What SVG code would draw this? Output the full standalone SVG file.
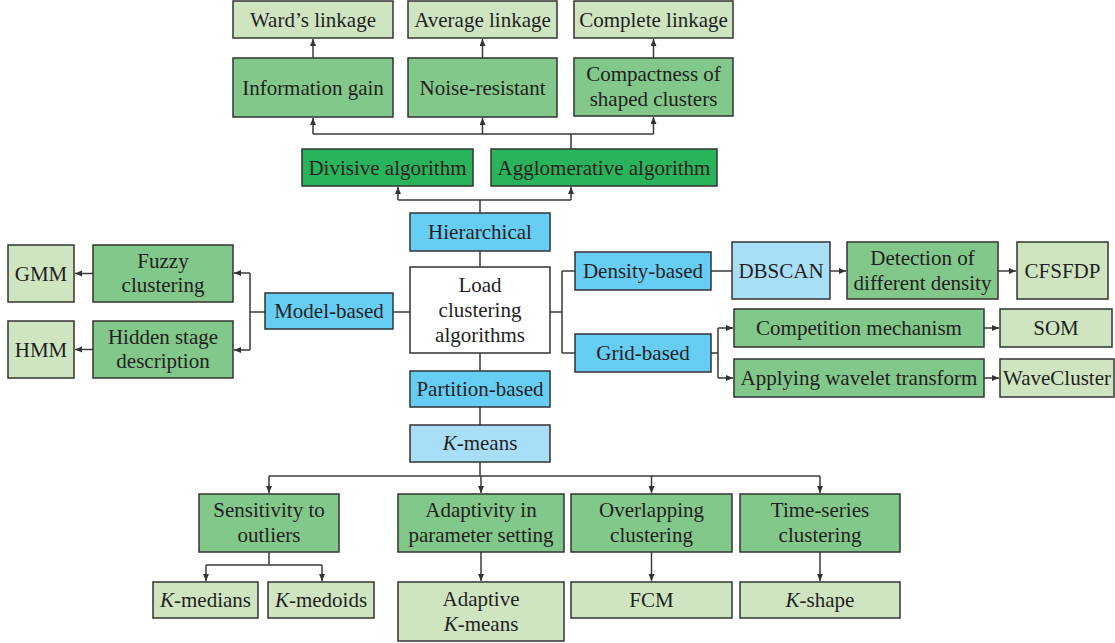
<svg xmlns="http://www.w3.org/2000/svg" width="1115" height="643" viewBox="0 0 1115 643" font-family="Liberation Serif, serif" font-size="21">
<style>
rect{stroke:#333;stroke-width:1.5}
.lg{fill:#cfe5c2}.mg{fill:#82c88a}.dg{fill:#29b45b}.bl{fill:#66cdf5}.lb{fill:#a9def8}.wh{fill:#fff}
text{font-family:"Liberation Serif",serif;font-size:21px;fill:#231f20;text-anchor:middle}
.c path{stroke:#3a3a3a;stroke-width:1.5;fill:none}
</style>
<defs>
<marker id="a" markerUnits="userSpaceOnUse" markerWidth="8" markerHeight="8" refX="7" refY="3" orient="auto"><path d="M0,0 L7,3 L0,6 z" fill="#333"/></marker>
</defs>
<g class="c">
<path d="M313 58V39" marker-end="url(#a)"/>
<path d="M482.5 58V39" marker-end="url(#a)"/>
<path d="M653.5 58V39" marker-end="url(#a)"/>
<path d="M571 149V134M313 134H653.5"/>
<path d="M313 134V118" marker-end="url(#a)"/>
<path d="M482.5 134V118" marker-end="url(#a)"/>
<path d="M653.5 134V117" marker-end="url(#a)"/>
<path d="M480 213V200M398 200H571"/>
<path d="M398 200V187" marker-end="url(#a)"/>
<path d="M571 200V187" marker-end="url(#a)"/>
<path d="M480 251V267M480 353V371M480 407V425"/>
<path d="M410 312H393M265 312H250M250 273V350"/>
<path d="M250 273H234" marker-end="url(#a)"/>
<path d="M250 350H234" marker-end="url(#a)"/>
<path d="M93 273.5H75" marker-end="url(#a)"/>
<path d="M93 349.5H75" marker-end="url(#a)"/>
<path d="M550 312H562M562 271V353M562 271H575M562 353H575M711 271H732"/>
<path d="M830 271H846" marker-end="url(#a)"/>
<path d="M998 271H1016" marker-end="url(#a)"/>
<path d="M711 353H718M718 328V378"/>
<path d="M718 328H733" marker-end="url(#a)"/>
<path d="M718 378H733" marker-end="url(#a)"/>
<path d="M984 328H999" marker-end="url(#a)"/>
<path d="M984 378H999" marker-end="url(#a)"/>
<path d="M480 462V476M269 476H820"/>
<path d="M269 476V493" marker-end="url(#a)"/>
<path d="M481 476V493" marker-end="url(#a)"/>
<path d="M651.5 476V493" marker-end="url(#a)"/>
<path d="M820 476V493" marker-end="url(#a)"/>
<path d="M269 552V565M206 565H322"/>
<path d="M206 565V581" marker-end="url(#a)"/>
<path d="M322 565V581" marker-end="url(#a)"/>
<path d="M481 552V581" marker-end="url(#a)"/>
<path d="M651.5 552V581" marker-end="url(#a)"/>
<path d="M820 552V581" marker-end="url(#a)"/>
</g>
<g id="ward"><rect class="lg" x="233" y="1" width="160" height="37"/><text x="313" y="27">Ward’s linkage</text></g>
<g id="average"><rect class="lg" x="408" y="1" width="149" height="37"/><text x="482.5" y="27">Average linkage</text></g>
<g id="complete"><rect class="lg" x="574" y="1" width="159" height="37"/><text x="653.5" y="27">Complete linkage</text></g>
<g id="infogain"><rect class="mg" x="233" y="58" width="160" height="59"/><text x="313" y="95">Information gain</text></g>
<g id="noise"><rect class="mg" x="408" y="58" width="149" height="59"/><text x="482.5" y="95">Noise-resistant</text></g>
<g id="compact"><rect class="mg" x="574" y="58" width="159" height="58"/><text x="653.5" y="81">Compactness of</text><text x="653.5" y="106">shaped clusters</text></g>
<g id="divisive"><rect class="dg" x="302" y="149" width="171" height="37"/><text x="387.5" y="175">Divisive algorithm</text></g>
<g id="agglo"><rect class="dg" x="491" y="149" width="226" height="37"/><text x="604" y="175">Agglomerative algorithm</text></g>
<g id="hier"><rect class="bl" x="410" y="213" width="140" height="38"/><text x="480" y="239">Hierarchical</text></g>
<g id="load"><rect class="wh" x="410" y="267" width="140" height="86"/><text x="480" y="292">Load</text><text x="480" y="317">clustering</text><text x="480" y="342">algorithms</text></g>
<g id="partition"><rect class="bl" x="410" y="371" width="140" height="36"/><text x="480" y="396">Partition-based</text></g>
<g id="kmeans"><rect class="lb" x="410" y="425" width="140" height="37"/><text x="480" y="450"><tspan font-style="italic">K</tspan>-means</text></g>
<g id="model"><rect class="bl" x="265" y="293" width="128" height="36"/><text x="329" y="318">Model-based</text></g>
<g id="fuzzy"><rect class="mg" x="93" y="245" width="140" height="57"/><text x="163" y="268">Fuzzy</text><text x="163" y="292">clustering</text></g>
<g id="hidden"><rect class="mg" x="93" y="321" width="140" height="57"/><text x="163" y="344">Hidden stage</text><text x="163" y="368">description</text></g>
<g id="gmm"><rect class="lg" x="8" y="245" width="66" height="57"/><text x="41" y="281">GMM</text></g>
<g id="hmm"><rect class="lg" x="8" y="321" width="66" height="57"/><text x="41" y="357">HMM</text></g>
<g id="density"><rect class="bl" x="575" y="252" width="136" height="38"/><text x="643" y="278">Density-based</text></g>
<g id="dbscan"><rect class="lb" x="732" y="242" width="98" height="57"/><text x="781" y="278">DBSCAN</text></g>
<g id="detection"><rect class="mg" x="847" y="242" width="151" height="57"/><text x="922.5" y="265">Detection of</text><text x="922.5" y="290">different density</text></g>
<g id="cfsfdp"><rect class="lg" x="1017" y="242" width="91" height="57"/><text x="1062.5" y="278">CFSFDP</text></g>
<g id="grid"><rect class="bl" x="575" y="334" width="136" height="38"/><text x="643" y="360">Grid-based</text></g>
<g id="competition"><rect class="mg" x="734" y="309" width="250" height="38"/><text x="859" y="335">Competition mechanism</text></g>
<g id="som"><rect class="lg" x="1000" y="309" width="112" height="38"/><text x="1056" y="335">SOM</text></g>
<g id="wavelet"><rect class="mg" x="734" y="359" width="250" height="38"/><text x="859" y="385">Applying wavelet transform</text></g>
<g id="wavecluster"><rect class="lg" x="1000" y="359" width="114" height="38"/><text x="1057" y="385">WaveCluster</text></g>
<g id="sensitivity"><rect class="mg" x="199" y="494" width="140" height="58"/><text x="269" y="517">Sensitivity to</text><text x="269" y="542">outliers</text></g>
<g id="adaptivity"><rect class="mg" x="398" y="494" width="166" height="58"/><text x="481" y="517">Adaptivity in</text><text x="481" y="542">parameter setting</text></g>
<g id="overlapping"><rect class="mg" x="571" y="494" width="161" height="58"/><text x="651.5" y="517">Overlapping</text><text x="651.5" y="542">clustering</text></g>
<g id="timeseries"><rect class="mg" x="740" y="494" width="160" height="58"/><text x="820" y="517">Time-series</text><text x="820" y="542">clustering</text></g>
<g id="kmedians"><rect class="lg" x="153" y="582" width="105" height="36"/><text x="205.5" y="607"><tspan font-style="italic">K</tspan>-medians</text></g>
<g id="kmedoids"><rect class="lg" x="268" y="582" width="106" height="36"/><text x="321" y="607"><tspan font-style="italic">K</tspan>-medoids</text></g>
<g id="adaptive"><rect class="lg" x="398" y="582" width="166" height="59"/><text x="481" y="606">Adaptive</text><text x="481" y="631"><tspan font-style="italic">K</tspan>-means</text></g>
<g id="fcm"><rect class="lg" x="571" y="582" width="161" height="36"/><text x="651.5" y="607">FCM</text></g>
<g id="kshape"><rect class="lg" x="740" y="582" width="160" height="36"/><text x="820" y="607"><tspan font-style="italic">K</tspan>-shape</text></g>
</svg>
